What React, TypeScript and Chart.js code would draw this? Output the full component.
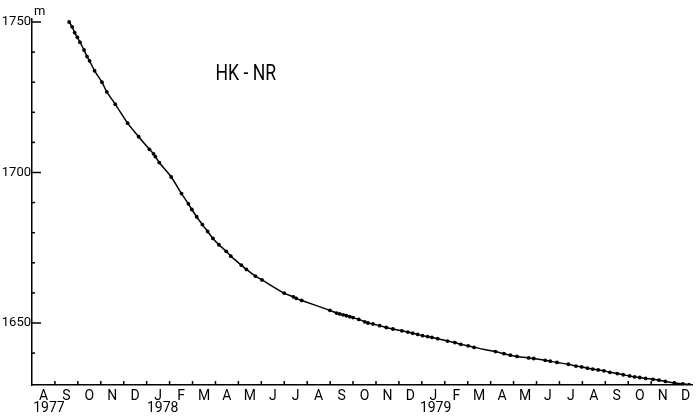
import React, { useEffect, useRef } from "react";
import { Chart, registerables } from "chart.js";

Chart.register(...registerables);

// x values: months elapsed since 1 Aug 1977
const monthLabels = ["A","S","O","N","D","J","F","M","A","M","J","J","A","S","O","N","D","J","F","M","A","M","J","J","A","S","O","N","D"];
const yearLabels = ["1977", "1978", "1979"];
const yearPositions = [0.74, 5.7, 17.6];
const yMajorTicks = [1650, 1700, 1750];
const yMinorTicks = [1640, 1660, 1670, 1680, 1690, 1710, 1720, 1730, 1740];
const titleText = "HK - NR";
const unitText = "m";

const monthsElapsed = [
  1.62, 1.75, 1.86, 1.98, 2.09, 2.27, 2.40, 2.51, 2.73, 3.05,
  3.26, 3.63, 4.17, 4.65, 5.12, 5.30, 5.38, 5.55, 6.07,
  6.52, 6.82, 6.97, 7.18, 7.43, 7.66, 7.89, 8.15, 8.47, 8.67,
  9.13, 9.35, 9.74, 10.03, 11.00, 11.40, 11.52, 11.76, 12.99, 13.28,
  13.42, 13.57, 13.71, 13.86, 14.00, 14.25, 14.51, 14.65, 14.87, 15.16,
  15.45, 15.74, 16.13, 16.39, 16.60, 16.82, 17.03, 17.25, 17.44, 17.69,
  18.12, 18.44, 18.70, 19.02, 19.28, 20.21, 20.58, 20.86, 21.15, 21.66,
  21.88, 22.38, 22.60, 22.89, 23.39, 23.72, 23.97, 24.22, 24.45, 24.69,
  24.94, 25.20, 25.52, 25.78, 26.06, 26.28, 26.50, 26.76, 27.08, 27.34,
  27.62, 28.01, 28.38, 28.65,
];
const heights = [
  1750.0, 1748.4, 1746.5, 1744.9, 1743.3, 1740.7, 1738.5, 1737.1, 1733.8, 1730.0,
  1726.8, 1722.7, 1716.4, 1711.9, 1707.7, 1706.2, 1705.3, 1703.3, 1698.5,
  1693.0, 1689.6, 1687.7, 1685.3, 1682.7, 1680.4, 1678.1, 1676.0, 1673.8, 1672.2,
  1669.2, 1667.8, 1665.6, 1664.3, 1659.9, 1658.7, 1658.2, 1657.5, 1654.2, 1653.3,
  1653.0, 1652.7, 1652.4, 1652.1, 1651.8, 1651.2, 1650.4, 1650.0, 1649.7, 1649.1,
  1648.5, 1648.0, 1647.4, 1647.0, 1646.6, 1646.2, 1645.8, 1645.5, 1645.2, 1644.8,
  1644.0, 1643.5, 1642.9, 1642.4, 1641.9, 1640.5, 1639.8, 1639.3, 1638.9, 1638.4,
  1638.2, 1637.6, 1637.3, 1636.9, 1636.3, 1635.7, 1635.4, 1635.0, 1634.7, 1634.4,
  1634.1, 1633.6, 1633.2, 1632.8, 1632.4, 1632.1, 1631.9, 1631.6, 1631.3, 1631.0,
  1630.6, 1630.1, 1629.8, 1629.5,
];

const X_MIN = 0;
const X_MAX = 28.78;
const Y_MIN = 1629.4;
const Y_MAX = 1751;
const TITLE_X = 9.32;
const TITLE_Y = 1732.4;

const FONT = "Roboto, 'Liberation Sans', sans-serif";

const annotPlugin = {
  id: "annot",
  afterDraw(chart: any) {
    const ctx = chart.ctx;
    const xs = chart.scales.x;
    const ys = chart.scales.y;
    ctx.save();
    ctx.strokeStyle = "#000";
    ctx.lineWidth = 1.5;
    // month boundary ticks (pointing up)
    for (let i = 1; i < monthLabels.length; i++) {
      const px = xs.getPixelForValue(i);
      if (px > xs.right) continue;
      ctx.beginPath();
      ctx.moveTo(px, ys.bottom);
      ctx.lineTo(px, ys.bottom - 4);
      ctx.stroke();
    }
    // y ticks (pointing right)
    yMajorTicks.forEach((v) => {
      const py = ys.getPixelForValue(v);
      ctx.beginPath();
      ctx.moveTo(xs.left, py);
      ctx.lineTo(xs.left + 9, py);
      ctx.stroke();
    });
    yMinorTicks.forEach((v) => {
      const py = ys.getPixelForValue(v);
      ctx.beginPath();
      ctx.moveTo(xs.left, py);
      ctx.lineTo(xs.left + 3, py);
      ctx.stroke();
    });
    ctx.fillStyle = "#000";
    ctx.textAlign = "center";
    ctx.textBaseline = "middle";
    ctx.font = `14px ${FONT}`;
    yearLabels.forEach((t, i) => {
      ctx.fillText(t, xs.getPixelForValue(yearPositions[i]), ys.bottom + 23);
    });
    ctx.font = `13px ${FONT}`;
    ctx.textAlign = "left";
    ctx.fillText(unitText, xs.left + 2, ys.getPixelForValue(1750) - 10);
    // title, slightly condensed like the original lettering
    const tx = xs.getPixelForValue(TITLE_X);
    const ty = ys.getPixelForValue(TITLE_Y);
    ctx.translate(tx, ty);
    ctx.scale(0.8, 1);
    ctx.font = `22px ${FONT}`;
    ctx.textAlign = "center";
    ctx.fillText(titleText, 0, 0);
    ctx.restore();
  },
};

export default function App() {
  const ref = useRef<HTMLCanvasElement | null>(null);
  useEffect(() => {
    if (!ref.current) return;
    const data = monthsElapsed.map((m, i) => ({ x: m, y: heights[i] }));
    const chart = new Chart(ref.current, {
      type: "line",
      data: {
        datasets: [
          {
            data,
            borderColor: "#000",
            backgroundColor: "#000",
            borderWidth: 1.5,
            pointRadius: 1.9,
            pointBorderWidth: 0,
            pointBackgroundColor: "#000",
            tension: 0.3,
            fill: false,
          },
        ],
      },
      options: {
        animation: false,
        responsive: false,
        devicePixelRatio: 1,
        layout: { padding: { top: 19, left: 0, right: 0, bottom: 0 } },
        plugins: {
          legend: { display: false },
          tooltip: { enabled: false },
          title: { display: false },
        },
        scales: {
          x: {
            type: "linear",
            min: X_MIN,
            max: X_MAX,
            grid: { display: false, drawTicks: false },
            border: { display: true, color: "#000", width: 1.5 },
            afterBuildTicks: (s: any) => {
              s.ticks = monthLabels.map((_, i) => ({ value: i + 0.5 }));
            },
            afterFit: (s: any) => {
              s.height = 32;
            },
            ticks: {
              autoSkip: false,
              maxRotation: 0,
              minRotation: 0,
              padding: 3,
              color: "#000",
              font: { family: FONT, size: 14 },
              callback: (v: any) => monthLabels[Math.floor(Number(v))] ?? "",
            },
          },
          y: {
            type: "linear",
            min: Y_MIN,
            max: Y_MAX,
            grid: { display: false, drawTicks: false },
            border: { display: true, color: "#000", width: 1.5 },
            afterBuildTicks: (s: any) => {
              s.ticks = yMajorTicks.map((v) => ({ value: v }));
            },
            afterFit: (s: any) => {
              s.width = 32;
            },
            ticks: {
              padding: 1,
              color: "#000",
              font: { family: FONT, size: 13 },
              callback: (v: any) => String(v),
            },
          },
        },
      },
      plugins: [annotPlugin],
    } as any);
    return () => chart.destroy();
  }, []);
  return (
    <div style={{ position: "absolute", left: 0, top: 0, width: 696, height: 417, background: "#fff" }}>
      <canvas ref={ref} width={696} height={417} style={{ display: "block", width: 696, height: 417 }} />
    </div>
  );
}
